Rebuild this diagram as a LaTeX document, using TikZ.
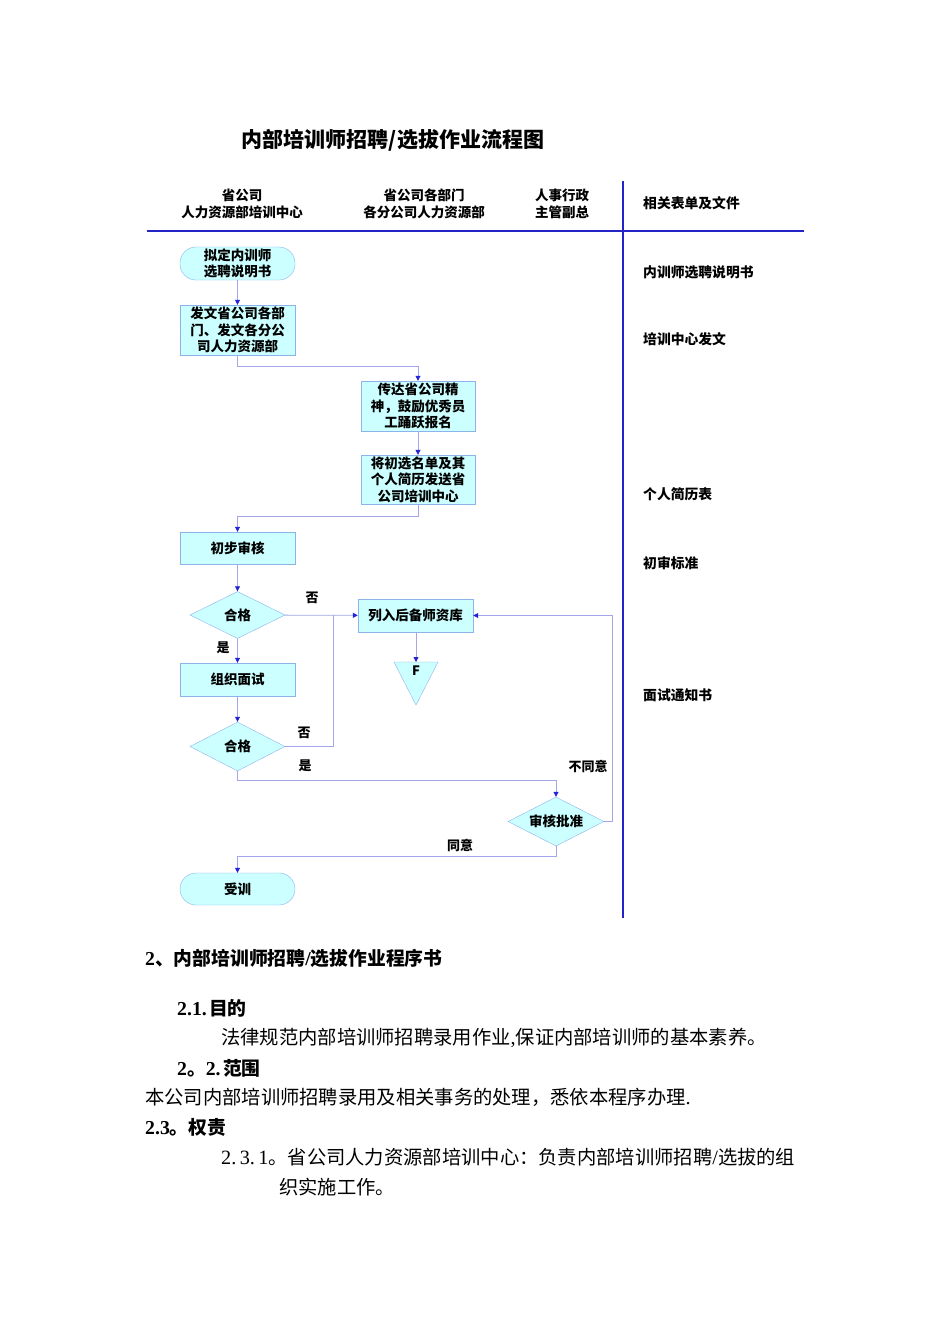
\documentclass[tikz,border=0pt]{standalone}
\usepackage{fontspec}
\setmainfont{Noto Sans CJK SC}
\newfontfamily\hw{Liberation Serif}[Scale=1.05]
\usetikzlibrary{arrows.meta,shapes.geometric}
\definecolor{boxfill}{RGB}{204,255,255}
\definecolor{boxline}{RGB}{140,180,235}
\definecolor{conn}{RGB}{165,165,235}
\definecolor{tipc}{RGB}{35,35,215}
\definecolor{rulec}{RGB}{35,35,200}
\newcommand{\fsz}[1]{\fontsize{#1}{#1}\selectfont}
\newcommand{\hd}[1]{{\hw #1\hspace{0.12em}}}
\begin{document}
\begin{tikzpicture}[x=1pt,y=-1pt,
  proc/.style={draw=boxline, fill=boxfill, minimum width=115pt, inner sep=0pt, align=center,
    font=\fontsize{13.5}{16.5}\selectfont\bfseries},
  term/.style={proc, rounded corners=16pt},
  dia/.style={diamond, aspect=2, draw=boxline, fill=boxfill, minimum width=95pt, minimum height=47pt, inner sep=0pt,
    font=\fontsize{13.5}{16.5}\selectfont\bfseries},
  line/.style={draw=conn, line width=0.8pt},
  arr/.style={line, -{Triangle[length=5pt,width=5pt,color=tipc]}},
  lab/.style={font=\fsz{13}\bfseries, inner sep=0pt},
  side/.style={font=\fsz{13.8}\bfseries, anchor=west, inner sep=0pt},
  head/.style={font=\fontsize{13.5}{17}\selectfont\bfseries, align=center, inner sep=0pt},
  sect/.style={font=\fsz{18.8}\bfseries, anchor=west, inner sep=0pt},
  body/.style={font=\fsz{19.3}, anchor=west, inner sep=0pt}
]
\useasboundingbox (0,0) rectangle (950,1344);
\fill[white] (0,0) rectangle (950,1344);

% title
\node[font=\fsz{21}\bfseries, inner sep=0pt] (title) at (393,140) {内部培训师招聘/选拔作业流程图};

% headers
\node[head] (h1) at (242,203.5) {省公司\\人力资源部培训中心};
\node[head] (h2) at (424,203.5) {省公司各部门\\各分公司人力资源部};
\node[head] (h3) at (562,203.5) {人事行政\\主管副总};
\node[side] (h4) at (643,203) {相关表单及文件};

% rules
\draw[rulec, line width=2.5pt] (147,231) -- (804,231);
\draw[rulec, line width=2pt] (623,181) -- (623,918);

% side labels
\node[side] (s1) at (643,272) {内训师选聘说明书};
\node[side] (s2) at (643,339) {培训中心发文};
\node[side] (s3) at (643,494) {个人简历表};
\node[side] (s4) at (643,563) {初审标准};
\node[side] (s5) at (643,695) {面试通知书};

% flow nodes
\node[term, minimum height=33pt] (n1) at (237.5,263.5) {拟定内训师\\选聘说明书};
\node[proc, minimum height=50pt] (n2) at (237.5,330) {发文省公司各部\\门、发文各分公\\司人力资源部};
\node[proc, minimum height=50pt, minimum width=114pt] (n3) at (418,406) {传达省公司精\\神，鼓励优秀员\\工踊跃报名};
\node[proc, minimum height=49pt, minimum width=114pt] (n4) at (418,479.5) {将初选名单及其\\个人简历发送省\\公司培训中心};
\node[proc, minimum height=32pt] (n5) at (237.5,548) {初步审核};
\node[dia] (d1) at (237.5,615) {合格};
\node[proc, minimum height=33pt] (n6) at (415.5,615.5) {列入后备师资库};
\node[proc, minimum height=33pt] (n7) at (237.5,679.5) {组织面试};
\node[dia, minimum height=49pt] (d2) at (237.5,746.5) {合格};
\node[dia, minimum height=49pt, minimum width=96pt] (d3) at (556,821.5) {审核批准};
\node[term, minimum height=32pt] (n8) at (237.5,889) {受训};

% F triangle
\coordinate (Ftop) at (416,662);
\filldraw[draw=boxline, fill=boxfill] (394,662) -- (438,662) -- (416,705) -- cycle;
\node[font=\fsz{13}\bfseries, inner sep=0pt] (F) at (416,671) {F};
\coordinate (j1) at (333,615);

% connectors
\draw[arr] (n1) -- (n2);
\draw[arr] (n2.south) -- ++(0,11) -| (n3);
\draw[arr] (n3) -- (n4);
\draw[arr] (n4.south) -- ++(0,12) -| (n5);
\draw[arr] (n5) -- (d1);
\draw[arr] (d1) -- (n6);
\draw[arr] (d1) -- (n7);
\draw[arr] (n6.south -| Ftop) -- (Ftop);
\draw[arr] (n7) -- (d2);
\draw[line] (d2.east) -| (j1);
\draw[arr] (d2.south) -- ++(0,9) -| (d3);
\draw[arr] (d3.east) -- ++(8,0) |- (n6.east);
\draw[arr] (d3.south) -- ++(0,10) -| (n8);

% edge labels
\node[lab] (l1) at (312,598) {否};
\node[lab] (l2) at (223,648) {是};
\node[lab] (l3) at (304,733) {否};
\node[lab] (l4) at (305,766) {是};
\node[lab] (l5) at (588,766) {不同意};
\node[lab] (l6) at (460,845) {同意};

% text below
\node[sect] (t1) at (145,958) {{\hw 2}、内部培训师招聘{\hw /}选拔作业程序书};
\node[sect] (t2) at (177,1008) {\hd{2.1.}目的};
\node[body] (t3) at (221,1038) {法律规范内部培训师招聘录用作业{\hw ,}保证内部培训师的基本素养。};
\node[sect] (t4) at (177,1068) {{\hw 2}。\hd{2.}范围};
\node[body] (t5) at (145,1097) {本公司内部培训师招聘录用及相关事务的处理，悉依本程序办理{\hw .}};
\node[sect] (t6) at (145,1127) {{\hw 2.3}。权责};
\node[body] (t7) at (221,1157) {{\hw 2.\,3.\,1}。省公司人力资源部培训中心：负责内部培训师招聘{\hw /}选拔的组};
\node[body] (t8) at (279,1187) {织实施工作。};
\end{tikzpicture}
\end{document}
